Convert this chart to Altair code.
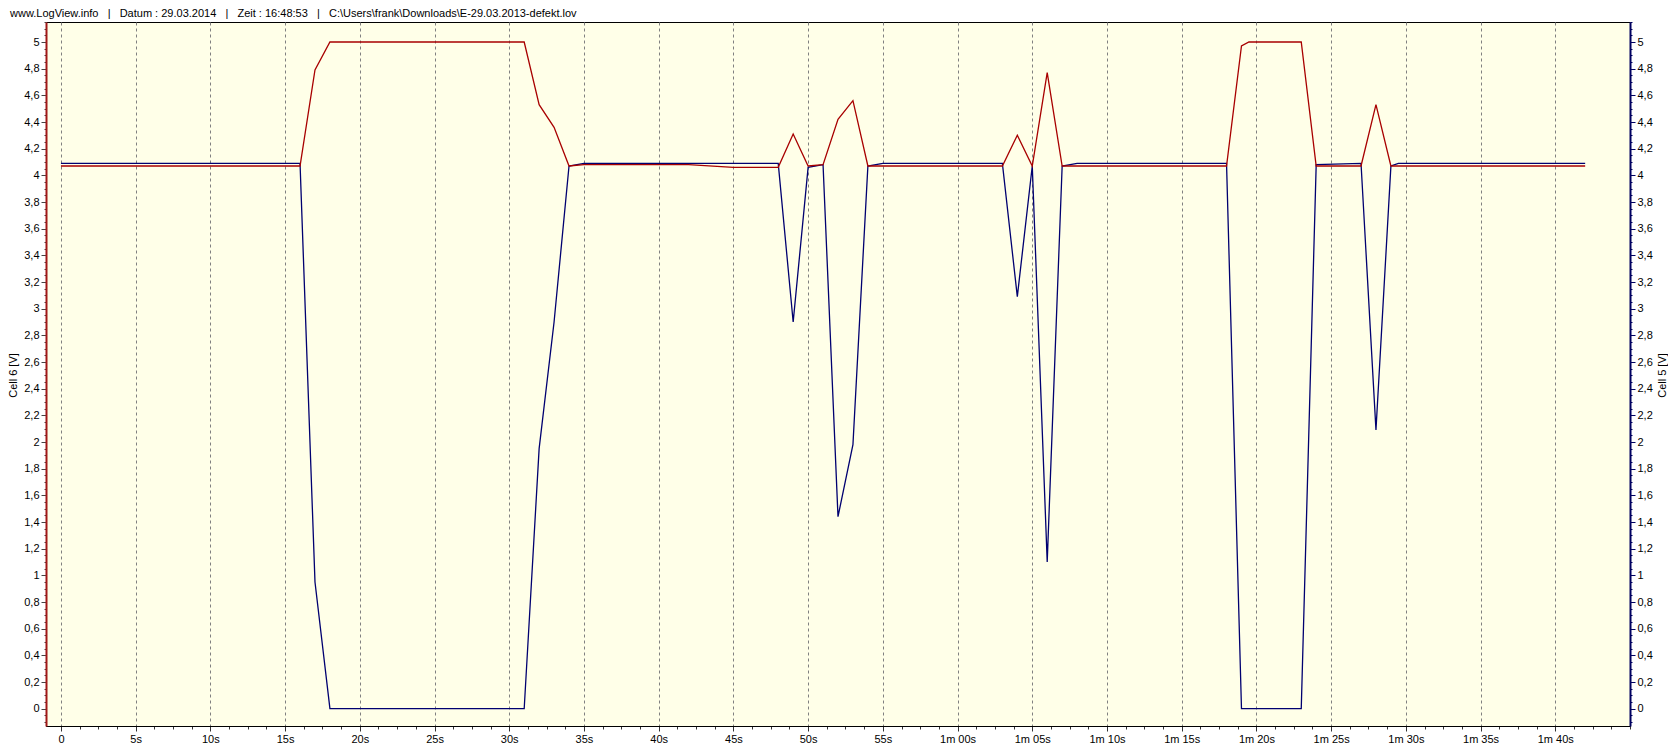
import altair as alt
import pandas as pd

# ---- data (time in seconds, voltages in V) ----
time_s = [0, 16, 17, 18, 31, 32, 33, 34, 35, 42, 45, 48, 49, 50, 51, 52, 53, 54,
          55, 63, 64, 65, 66, 67, 68, 78, 79, 79.5, 83, 84, 87, 88, 89, 89.5, 102]
cell6 = [4.07, 4.07, 4.79, 5.0, 5.0, 4.53, 4.36, 4.07, 4.08, 4.08, 4.06, 4.06, 4.31, 4.07, 4.08, 4.42, 4.56, 4.07,
         4.07, 4.07, 4.30, 4.07, 4.77, 4.07, 4.07, 4.07, 4.97, 5.0, 5.0, 4.07, 4.07, 4.53, 4.07, 4.07, 4.07]
cell5 = [4.09, 4.09, 0.95, 0.0, 0.0, 1.95, 2.9, 4.07, 4.09, 4.09, 4.09, 4.09, 2.9, 4.06, 4.08, 1.44, 1.98, 4.07,
         4.09, 4.09, 3.09, 4.07, 1.10, 4.07, 4.09, 4.09, 0.0, 0.0, 0.0, 4.08, 4.09, 2.09, 4.07, 4.09, 4.09]

x_ticks = [i * 1.25 for i in range(0, 85)]
y_ticks = [round(i * 0.05, 2) for i in range(-2, 104)]

header = ("www.LogView.info\u00a0\u00a0\u00a0|\u00a0\u00a0\u00a0Datum : 29.03.2014\u00a0\u00a0\u00a0|"
          "\u00a0\u00a0\u00a0Zeit : 16:48:53\u00a0\u00a0\u00a0|\u00a0\u00a0\u00a0"
          "C:\\Users\\frank\\Downloads\\E-29.03.2013-defekt.lov")

df = pd.DataFrame({"t": time_s, "cell6": cell6, "cell5": cell5})

FONT = "Liberation Sans"
major_y = "round(datum.value*100) % 20 === 0"
y_label = f"{major_y} ? replace(format(datum.value, '.1~f'), '.', ',') : ''"
major_x = "datum.value % 5 === 0 && datum.value <= 100"
x_label = (f"({major_x}) ? (datum.value === 0 ? '0' : datum.value < 60 ? datum.value + 's' : "
           "floor(datum.value/60) + 'm ' + (datum.value % 60 < 10 ? '0' : '') + (datum.value % 60) + 's') : ''")

x_axis = alt.Axis(
    values=x_ticks, labelExpr=x_label, title=None, labelOverlap=False,
    labelFont=FONT, labelFontSize=11, labelColor="black", labelPadding=2,
    domainColor="black", domainWidth=1, tickColor="#333333",
    tickSize={"condition": {"test": major_x, "value": 5}, "value": 3},
    grid=True, gridColor="#808080", gridDash=[3, 3], gridWidth=1,
    gridOpacity={"condition": {"test": major_x, "value": 1}, "value": 0},
)
x_enc = alt.X("t:Q", scale=alt.Scale(domain=[-1, 105], nice=False, zero=False), axis=x_axis)

y_scale = alt.Scale(domain=[-0.13, 5.15], nice=False, zero=False)

left_axis = alt.Axis(
    orient="left", values=y_ticks, labelExpr=y_label, labelOverlap=False,
    labelFont=FONT, labelFontSize=11, labelColor="black", labelPadding=2,
    domainColor="#A01818", domainWidth=2, tickColor="#444444",
    tickSize={"condition": {"test": major_y, "value": 5}, "value": 2},
    grid=False, title="Cell 6 [V]", titleFont=FONT, titleFontSize=11, titleFontWeight="normal",
    titleColor="black", titleAngle=270, titleX=-33, titleY=353, titleAlign="center", titleBaseline="middle",
)
right_axis = alt.Axis(
    orient="right", values=y_ticks, labelExpr=y_label, labelOverlap=False,
    labelFont=FONT, labelFontSize=11, labelColor="black", labelPadding=2,
    domainColor="#000060", domainWidth=2, tickColor="#000060",
    tickSize={"condition": {"test": major_y, "value": 5}, "value": 2},
    grid=False, title="Cell 5 [V]", titleFont=FONT, titleFontSize=11, titleFontWeight="normal",
    titleColor="black", titleAngle=270, titleX=32, titleY=353, titleAlign="center", titleBaseline="middle",
)

red = alt.Chart(df).mark_line(color="#A80000", strokeWidth=1.3).encode(
    x=x_enc, y=alt.Y("cell6:Q", scale=y_scale, axis=left_axis)
)
blue = alt.Chart(df).mark_line(color="#000070", strokeWidth=1.3).encode(
    x=x_enc, y=alt.Y("cell5:Q", scale=y_scale, axis=right_axis)
)

chart = (
    alt.layer(blue, red)
    .resolve_scale(y="independent")
    .properties(
        width=1584, height=704,
        autosize=alt.AutoSizeParams(type="none"),
        padding={"left": 38, "top": 14, "right": 38, "bottom": 20},
        title=alt.TitleParams(
            text=header, anchor="start", frame="group", dx=-36, offset=3, dy=6,
            font=FONT, fontSize=11, fontWeight="normal", color="black",
        ),
        background="white",
    )
    .configure_view(fill="#FFFFE8", stroke="black", strokeWidth=1)
)

chart.save("out.html", embed_options={"renderer": "svg", "actions": False})
